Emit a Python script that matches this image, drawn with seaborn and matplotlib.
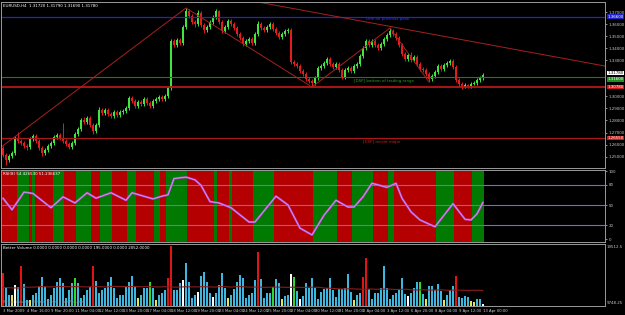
import matplotlib
matplotlib.use('Agg')
import matplotlib.pyplot as plt
import seaborn as sns
import numpy as np
import pandas as pd

# ---------------- datos: EURUSD H4 ----------------
apertura_inicial = 1.2572
cierre = [1.2514, 1.2472, 1.2505, 1.2530, 1.2655, 1.2630, 1.2613, 1.2588, 1.2580, 1.2646,
          1.2671, 1.2630, 1.2572, 1.2530, 1.2555, 1.2588, 1.2613, 1.2663, 1.2680, 1.2655,
          1.2630, 1.2605, 1.2580, 1.2613, 1.2688, 1.2729, 1.2804, 1.2787, 1.2821, 1.2763,
          1.2713, 1.2763, 1.2887, 1.2862, 1.2887, 1.2854, 1.2837, 1.2870, 1.2846, 1.2870,
          1.2879, 1.2904, 1.2987, 1.2962, 1.2920, 1.2953, 1.2937, 1.2978, 1.2945, 1.2920,
          1.2962, 1.2978, 1.2995, 1.2978, 1.3003, 1.3070, 1.3460, 1.3427, 1.3468, 1.3443,
          1.3576, 1.3709, 1.3667, 1.3617, 1.3601, 1.3692, 1.3593, 1.3551, 1.3576, 1.3617,
          1.3659, 1.3709, 1.3617, 1.3543, 1.3576, 1.3626, 1.3601, 1.3568, 1.3518, 1.3485,
          1.3435, 1.3460, 1.3476, 1.3443, 1.3518, 1.3601, 1.3568, 1.3551, 1.3576, 1.3601,
          1.3559, 1.3526, 1.3493, 1.3518, 1.3543, 1.3551, 1.3285, 1.3269, 1.3252, 1.3211,
          1.3186, 1.3144, 1.3128, 1.3111, 1.3153, 1.3236, 1.3252, 1.3277, 1.3310, 1.3269,
          1.3244, 1.3269, 1.3219, 1.3161, 1.3219, 1.3236, 1.3211, 1.3252, 1.3269, 1.3335,
          1.3402, 1.3460, 1.3427, 1.3460, 1.3427, 1.3402, 1.3435, 1.3476, 1.3510, 1.3543,
          1.3518, 1.3485, 1.3427, 1.3352, 1.3310, 1.3344, 1.3302, 1.3327, 1.3269, 1.3227,
          1.3219, 1.3186, 1.3144, 1.3169, 1.3202, 1.3252, 1.3227, 1.3261, 1.3277, 1.3294,
          1.3244, 1.3136, 1.3103, 1.3078, 1.3095, 1.3086, 1.3103, 1.3111, 1.3136, 1.3153,
          1.3178]
maximo = [1.2588, 1.2530, 1.2522, 1.2547, 1.2671, 1.2704, 1.2646, 1.2630, 1.2605, 1.2663,
          1.2688, 1.2688, 1.2646, 1.2588, 1.2572, 1.2605, 1.2630, 1.2680, 1.2696, 1.2696,
          1.2779, 1.2646, 1.2621, 1.2630, 1.2704, 1.2746, 1.2821, 1.2829, 1.2837, 1.2837,
          1.2779, 1.2779, 1.2912, 1.2904, 1.2904, 1.2904, 1.2870, 1.2887, 1.2887, 1.2887,
          1.2895, 1.2920, 1.3003, 1.3003, 1.2978, 1.2970, 1.2970, 1.2995, 1.2995, 1.2962,
          1.2978, 1.2995, 1.3012, 1.3012, 1.3020, 1.3086, 1.3476, 1.3476, 1.3485, 1.3485,
          1.3593, 1.3734, 1.3725, 1.3684, 1.3634, 1.3717, 1.3709, 1.3609, 1.3593, 1.3634,
          1.3676, 1.3725, 1.3717, 1.3634, 1.3593, 1.3642, 1.3642, 1.3617, 1.3584, 1.3534,
          1.3501, 1.3476, 1.3493, 1.3493, 1.3534, 1.3626, 1.3617, 1.3584, 1.3593, 1.3617,
          1.3617, 1.3576, 1.3543, 1.3534, 1.3559, 1.3568, 1.3568, 1.3302, 1.3285, 1.3269,
          1.3227, 1.3202, 1.3161, 1.3144, 1.3169, 1.3252, 1.3269, 1.3294, 1.3327, 1.3327,
          1.3285, 1.3285, 1.3285, 1.3236, 1.3236, 1.3252, 1.3252, 1.3269, 1.3285, 1.3352,
          1.3418, 1.3476, 1.3476, 1.3476, 1.3476, 1.3443, 1.3451, 1.3493, 1.3526, 1.3568,
          1.3559, 1.3534, 1.3501, 1.3443, 1.3368, 1.3360, 1.3368, 1.3344, 1.3344, 1.3285,
          1.3244, 1.3236, 1.3202, 1.3186, 1.3219, 1.3269, 1.3269, 1.3277, 1.3294, 1.3310,
          1.3310, 1.3261, 1.3153, 1.3119, 1.3111, 1.3103, 1.3119, 1.3128, 1.3153, 1.3169,
          1.3194]
minimo = [1.2497, 1.2431, 1.2455, 1.2489, 1.2514, 1.2613, 1.2597, 1.2572, 1.2555, 1.2563,
          1.2630, 1.2613, 1.2555, 1.2505, 1.2514, 1.2538, 1.2572, 1.2597, 1.2646, 1.2638,
          1.2613, 1.2588, 1.2563, 1.2563, 1.2597, 1.2671, 1.2713, 1.2771, 1.2771, 1.2746,
          1.2688, 1.2696, 1.2746, 1.2846, 1.2846, 1.2837, 1.2821, 1.2821, 1.2829, 1.2829,
          1.2854, 1.2862, 1.2887, 1.2945, 1.2904, 1.2904, 1.2920, 1.2920, 1.2929, 1.2904,
          1.2904, 1.2945, 1.2962, 1.2962, 1.2962, 1.2987, 1.3053, 1.3410, 1.3410, 1.3427,
          1.3427, 1.3559, 1.3651, 1.3601, 1.3576, 1.3584, 1.3576, 1.3526, 1.3534, 1.3559,
          1.3601, 1.3642, 1.3601, 1.3526, 1.3526, 1.3559, 1.3584, 1.3551, 1.3501, 1.3468,
          1.3418, 1.3418, 1.3443, 1.3427, 1.3427, 1.3501, 1.3551, 1.3534, 1.3534, 1.3559,
          1.3543, 1.3510, 1.3476, 1.3476, 1.3501, 1.3526, 1.3269, 1.3252, 1.3236, 1.3194,
          1.3169, 1.3128, 1.3111, 1.3078, 1.3095, 1.3136, 1.3219, 1.3236, 1.3261, 1.3252,
          1.3227, 1.3227, 1.3202, 1.3144, 1.3144, 1.3202, 1.3194, 1.3194, 1.3236, 1.3252,
          1.3319, 1.3385, 1.3410, 1.3410, 1.3410, 1.3385, 1.3385, 1.3418, 1.3460, 1.3493,
          1.3501, 1.3468, 1.3410, 1.3335, 1.3294, 1.3294, 1.3285, 1.3285, 1.3252, 1.3211,
          1.3202, 1.3169, 1.3119, 1.3128, 1.3153, 1.3186, 1.3211, 1.3211, 1.3244, 1.3261,
          1.3227, 1.3119, 1.3086, 1.3061, 1.3070, 1.3070, 1.3070, 1.3095, 1.3095, 1.3119,
          1.3136]

volumen = [10560, 5760, 3520, 3520, 6720, 6080, 12800, 7040, 1920, 1920, 3520, 4160, 6080, 9280,
           6080, 2240, 3520, 5760, 7680, 8960, 7360, 2560, 5120, 7360, 8960, 7360, 2560, 3520,
           5120, 6080, 12800, 8000, 4160, 5120, 5760, 7680, 9280, 5760, 2560, 3520, 3520, 6080,
           7680, 9600, 6080, 2560, 3520, 5760, 5760, 7680, 5760, 1920, 3520, 4160, 5120, 8960,
           19200, 5120, 5120, 7360, 8320, 13760, 7680, 2560, 3520, 4480, 9600, 10880, 7680,
           4160, 2880, 4160, 6720, 10560, 5760, 2560, 3520, 5440, 7680, 9920, 8960, 2560, 3520,
           4160, 8320, 17280, 8640, 2560, 4160, 4160, 6080, 8640, 7360, 2240, 3200, 3520, 10240,
           9280, 4800, 2240, 3200, 7360, 5760, 8960, 5760, 2240, 4480, 5440, 5760, 8960, 5120,
           2880, 5440, 5440, 5760, 10240, 4480, 1920, 3520, 4160, 9280, 15360, 5440, 2240, 4160,
           4160, 5760, 12800, 5760, 2240, 3520, 4160, 5120, 8960, 3840, 3200,
           4160, 5760, 7680, 7680, 3840, 2240, 6400, 6400, 5120, 7040, 4800, 1920, 3520, 5120,
           6400, 9600, 2880, 2560, 3200, 2880, 1600, 1280, 2240, 2240, 640]
# b = normal, r = climax, g = churn, y = volumen bajo, w = climax bajista
tipo_volumen = ("rbbywbrbbybbbbbbbbbbbbbbgbbbbbrbbbbbbbbbbbbbbybbbgbybbbrrbbbwbbbbwbbb"
                "bwbbbbybbbbbbbbbrbbbbgbbybbwgbwbbbbbbbbbbbbbbbbbybbrrbbbbbbbbbbbbbw"
                "bbbgbybbbbbybbbrbbbbyybbw")

rsi_barras = [0, 3, 7, 10, 16, 20, 24, 28, 31, 36, 41, 43, 50, 53, 55, 57, 61, 64, 66, 69,
              72, 76, 82, 84, 91, 95, 99, 103, 107, 111, 115, 117, 120, 123, 128, 131, 133,
              136, 139, 144, 147, 150, 154, 156, 158, 160]
rsi_valores = [60, 43, 69, 67, 46, 62, 53, 68, 60, 68, 57, 68, 59, 63, 65, 89, 91, 87, 79, 55,
               53, 46, 25, 25, 63, 50, 16, 6, 35, 57, 47, 47, 62, 82, 76, 82, 60,
               40, 28, 18, 35, 52, 29, 28, 37, 54]
rsi_tramos = [5, 4, 1, 1, 6, 4, 4, 5, 3, 4, 5, 3, 6, 2, 2, 7, 9, 1, 4, 1, 7, 7, 13, 8, 5, 7,
              5, 2, 14, 6, 6, 4]
rsi_niveles = [20, 50, 80]

zigzag_barras = [-1, 61, 103, 129, 142]
zigzag_precios = [1.2572, 1.3734, 1.3078, 1.3568, 1.3119]
tendencia_barras = [70, 129]
tendencia_precios = [1.3852, 1.3581]

nivel_pico = 1.3660
nivel_rango = 1.3160
nivel_soporte = 1.3078
nivel_mayor = 1.2655

etiquetas_x = ["3 Mar 2009", "4 Mar 16:00", "9 Mar 20:00", "11 Mar 04:00", "12 Mar 12:00",
               "13 Mar 20:00", "17 Mar 04:00", "18 Mar 12:00", "19 Mar 20:00", "23 Mar 04:00",
               "24 Mar 12:00", "25 Mar 20:00", "27 Mar 04:00", "30 Mar 12:00", "31 Mar 20:00",
               "2 Apr 04:00", "3 Apr 12:00", "6 Apr 20:00", "8 Apr 04:00", "9 Apr 12:00",
               "13 Apr 00:00"]
paso_etiquetas = 8

# ---------------- estilo ----------------
sns.set_theme(style='dark', rc={
    'axes.facecolor': 'black', 'figure.facecolor': 'black',
    'axes.edgecolor': '#9a9a9a', 'axes.grid': False,
    'xtick.color': '#c8c8c8', 'ytick.color': '#c8c8c8',
    'text.color': 'white',
})
plt.rcParams['font.family'] = ['DejaVu Sans']

W, H = 625, 315
fig = plt.figure(figsize=(6.25, 3.15), dpi=100)


def rect(x0, y0, x1, y1):
    return [x0 / W, 1 - y1 / H, (x1 - x0) / W, (y1 - y0) / H]


ax = fig.add_axes(rect(1, 2, 605, 168))
ax_rsi = fig.add_axes(rect(1, 170, 605, 242), sharex=ax)
ax_vol = fig.add_axes(rect(1, 244, 605, 306), sharex=ax)

n = len(cierre)
barras = np.arange(n)
apertura = np.array([apertura_inicial] + cierre[:-1])
cierre_a = np.array(cierre)
sube = cierre_a >= apertura
col_velas = np.where(sube, '#3ee63e', '#e61c1c')
FS = 2.9

# ---------------- precio ----------------
ax.vlines(barras, minimo, maximo, colors=col_velas, lw=0.7)
cuerpo = np.maximum(np.abs(cierre_a - apertura), 0.00009)
ax.bar(barras, cuerpo, bottom=np.minimum(cierre_a, apertura), width=0.62,
       color=col_velas, linewidth=0)

ax.axhline(nivel_pico, color='#2424c8', lw=0.9)
ax.axhline(nivel_rango, color='#1f7a1f', lw=0.8)
ax.axhline(nivel_soporte, color='#b81818', lw=1.3)
ax.axhline(nivel_mayor, color='#a81818', lw=0.9)
sns.lineplot(x=zigzag_barras, y=zigzag_precios, color='#a82020', lw=0.7, sort=False,
             estimator=None, ax=ax)
ax.axline((tendencia_barras[0], tendencia_precios[0]),
          (tendencia_barras[1], tendencia_precios[1]), color='#a82020', lw=0.7)

ax.text(121, 1.3645, 'Line on previous peak', color='#3a3ae0', fontsize=2.8, va='center')
ax.text(117, 1.3147, '[DSP] bottom of trading range', color='#2aa02a', fontsize=2.8, va='top')
ax.text(120, 1.2640, '[DSP] recent major', color='#d02020', fontsize=2.8, va='top')
ax.text(0.004, 0.985, 'EURUSD,H4  1.31720 1.31790 1.31690 1.31780', transform=ax.transAxes,
        color='white', fontsize=FS, va='top')

ax.set_ylim(1.24056, 1.37834)
ax.set_xlim(-0.667, 200.67)
ax.yaxis.tick_right()

# etiquetas de precio con caja (tapan a las marcas cercanas)
cajas = [(nivel_pico, '#2020c8', 'white', 'center'), (cierre[-1], 'white', 'black', 'bottom'),
         (nivel_rango, '#1f8f1f', 'white', 'top'), (nivel_soporte, '#cc1a1a', 'white', 'center'),
         (nivel_mayor, '#cc1a1a', 'white', 'center')]
marcas = [m for m in np.arange(1.25, 1.3705, 0.01)
          if min(abs(m - c[0]) for c in cajas) > 0.0035]
ax.set_yticks(marcas)
ax.set_yticklabels([f'{v:.5f}' for v in marcas])
ax.tick_params(axis='y', labelsize=FS, length=1.5, width=0.5, pad=1)
ax.tick_params(axis='x', bottom=False, labelbottom=False)

for precio, fondo, texto, va in cajas:
    ax.text(1.004, precio, f'{precio:.5f}', transform=ax.get_yaxis_transform(),
            fontsize=FS, color=texto, va=va, ha='left',
            bbox=dict(boxstyle='square,pad=0.1', fc=fondo, ec='none'))

# ---------------- RSI ----------------
inicio = 0
for k, largo in enumerate(rsi_tramos):
    ax_rsi.axvspan(inicio - 0.5, inicio + largo - 0.5,
                   color='#b40000' if k % 2 == 0 else '#007a00', lw=0)
    inicio += largo
for nivel in rsi_niveles:
    ax_rsi.axhline(nivel, color='#6c6cd8', lw=0.8)
sns.lineplot(x=rsi_barras, y=rsi_valores, color='#d040d0', lw=1.5, ax=ax_rsi)
sns.lineplot(x=rsi_barras, y=rsi_valores, color='#a8b0ff', lw=0.5, ax=ax_rsi)
ax_rsi.set_ylim(-4.4, 101.5)
ax_rsi.yaxis.tick_right()
ax_rsi.set_yticks([0, 20, 50, 80, 100])
ax_rsi.set_yticklabels(['0', '20', '50', '80', '100'])
ax_rsi.tick_params(axis='y', labelsize=FS, length=1.5, width=0.5, pad=1)
ax_rsi.tick_params(axis='x', bottom=False, labelbottom=False)
ax_rsi.text(0.004, 0.975, 'RSI(8) 54.426530 51.236637', transform=ax_rsi.transAxes,
            color='white', fontsize=FS, va='top')
ax_rsi.set_ylabel('')

# ---------------- volumen ----------------
paleta = {'b': '#3cb8e0', 'r': '#e01414', 'g': '#2ed82e', 'y': '#e6e650', 'w': '#ffffff'}
df_vol = pd.DataFrame({'barra': barras, 'volumen': volumen, 'tipo': list(tipo_volumen)})
ax_vol.bar(df_vol['barra'], df_vol['volumen'], width=0.62, linewidth=0,
           color=df_vol['tipo'].map(paleta))
media_vol = df_vol['volumen'].rolling(100, min_periods=1, center=True).mean()
sns.lineplot(x=barras, y=media_vol, color='#8c1c1c', lw=0.8, ax=ax_vol)
ax_vol.set_ylim(0, 19840)
ax_vol.yaxis.tick_right()
ax_vol.set_yticks([1000, 19000])
ax_vol.set_yticklabels(['9748.25', '19512.5'])
ax_vol.tick_params(axis='y', labelsize=FS, length=0, pad=1)
ax_vol.set_xlim(-0.667, 200.67)
ax_vol.set_xticks(np.arange(len(etiquetas_x)) * paso_etiquetas)
ax_vol.set_xticklabels(etiquetas_x, ha='left')
ax_vol.tick_params(axis='x', labelsize=2.7, length=1.5, width=0.5, pad=0.8, colors='#d0d0d0')
ax_vol.set_xlabel('')
ax_vol.set_ylabel('')
ax_vol.text(0.004, 0.97, 'Better Volume 0.0000 0.0000 0.0000 0.0000 195.0000 0.0000 2052.0000',
            transform=ax_vol.transAxes, color='white', fontsize=FS, va='top')
ax_vol.text(0.004, 0.03, 'Better Volume: Climax / Churn / Low Volume', transform=ax_vol.transAxes,
            color='#8a8a8a', fontsize=2.6, va='bottom')

for a in (ax, ax_rsi, ax_vol):
    for s in a.spines.values():
        s.set_color('#9a9a9a')
        s.set_linewidth(0.7)

fig.savefig('out.png', dpi=100, facecolor='black')
